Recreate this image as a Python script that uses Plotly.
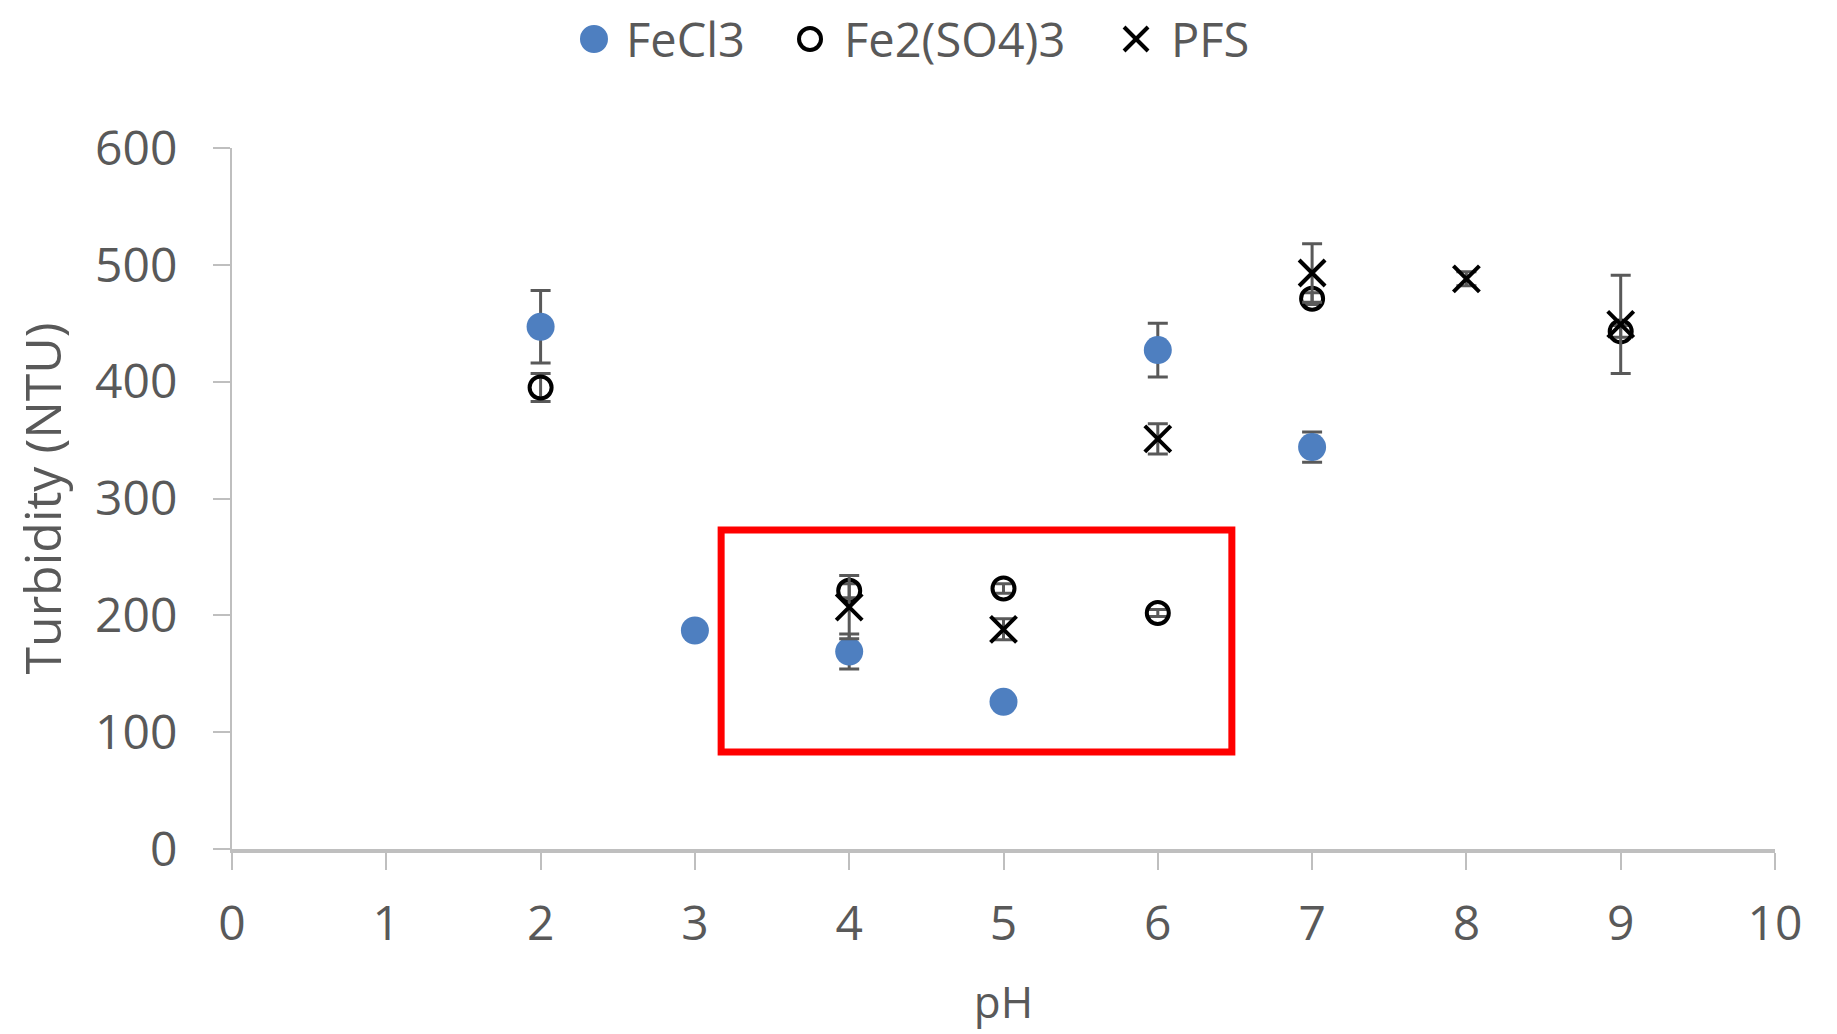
import plotly.graph_objects as go

# ---- data ----
ph_fecl3 = [2, 3, 4, 5, 6, 7]
turb_fecl3 = [447, 187, 169, 126, 427, 344]
err_fecl3 = [31, 4, 15, 5, 23, 13]

ph_fe2so4 = [2, 4, 5, 6, 7, 9]
turb_fe2so4 = [395, 221, 223, 202, 471, 443]
err_fe2so4 = [12, 6, 4, 3, 5, 5]

ph_pfs = [4, 5, 6, 7, 8, 9]
turb_pfs = [207, 188, 351, 493, 488, 449]
err_pfs = [27, 9, 13, 25, 6, 42]

series_names = ["FeCl3", "Fe2(SO4)3", "PFS"]
x_ticks = [0, 1, 2, 3, 4, 5, 6, 7, 8, 9, 10]
y_ticks = [0, 100, 200, 300, 400, 500, 600]

# highlight box (data coords)
box_x = [3.17, 6.48]
box_y = [83, 273]

# custom legend layout (paper coords): symbol centre x, text left x, row y
leg_sym_x = [0.2346, 0.3746, 0.5859]
leg_txt_x = [0.2541, 0.3953, 0.6073]
leg_y = 1.1555

FONT = "Open Sans"
TXT = "#595959"
ERRC = "#595959"
BLUE = "#4e7fc0"

fig = go.Figure()

fig.add_trace(go.Scatter(
    x=ph_fecl3, y=turb_fecl3, mode="markers", name=series_names[0],
    marker=dict(symbol="circle", size=28, color=BLUE, line=dict(width=0)),
    error_y=dict(type="data", array=err_fecl3, visible=True, color=ERRC, thickness=3, width=10),
))
fig.add_trace(go.Scatter(
    x=ph_fe2so4, y=turb_fe2so4, mode="markers", name=series_names[1],
    marker=dict(symbol="circle-open", size=22, color="black", line=dict(width=4, color="black")),
    error_y=dict(type="data", array=err_fe2so4, visible=True, color=ERRC, thickness=3, width=10),
))
fig.add_trace(go.Scatter(
    x=ph_pfs, y=turb_pfs, mode="markers", name=series_names[2],
    marker=dict(symbol="x-thin-open", size=26, color="black", line=dict(width=4, color="black")),
    error_y=dict(type="data", array=err_pfs, visible=True, color=ERRC, thickness=3, width=10),
))

fig.add_shape(type="rect", xref="x", yref="y",
              x0=box_x[0], x1=box_x[1], y0=box_y[0], y1=box_y[1],
              line=dict(color="#ff0000", width=7), fillcolor="rgba(0,0,0,0)")

# ---- custom legend (large symbols like the reference) ----
common = dict(xref="paper", yref="paper", xsizemode="pixel", ysizemode="pixel")
fig.add_shape(type="circle", xanchor=leg_sym_x[0], yanchor=leg_y,
              x0=-14, x1=14, y0=-14, y1=14, fillcolor=BLUE, line=dict(width=0), **common)
fig.add_shape(type="circle", xanchor=leg_sym_x[1], yanchor=leg_y,
              x0=-11, x1=11, y0=-11, y1=11, fillcolor="rgba(0,0,0,0)",
              line=dict(width=4, color="black"), **common)
fig.add_shape(type="line", xanchor=leg_sym_x[2], yanchor=leg_y,
              x0=-12, x1=12, y0=-12, y1=12, line=dict(width=4, color="black"), **common)
fig.add_shape(type="line", xanchor=leg_sym_x[2], yanchor=leg_y,
              x0=-12, x1=12, y0=12, y1=-12, line=dict(width=4, color="black"), **common)
for name, tx in zip(series_names, leg_txt_x):
    fig.add_annotation(text=name, xref="paper", yref="paper", x=tx, y=leg_y,
                       xanchor="left", yanchor="middle", showarrow=False,
                       font=dict(family=FONT, size=47, color=TXT))

# page body has an 8px margin, so the figure is sized/margined to compensate
fig.update_layout(
    width=1829, height=1026,
    paper_bgcolor="white", plot_bgcolor="white",
    margin=dict(l=224, r=62, t=140, b=185),
    font=dict(family=FONT, size=48, color=TXT),
    showlegend=False,
)

fig.update_xaxes(
    range=[0, 10], tickmode="array", tickvals=x_ticks,
    showgrid=False, zeroline=False, automargin=False,
    showline=True, linecolor="#bfbfbf", linewidth=4,
    ticks="outside", ticklen=17, tickwidth=2, tickcolor="#bfbfbf",
    ticklabelstandoff=12,
    tickfont=dict(family=FONT, size=48, color=TXT),
    title=dict(text="pH", font=dict(family=FONT, size=44, color=TXT), standoff=36),
)
fig.update_yaxes(
    range=[0, 600], tickmode="array", tickvals=y_ticks,
    showgrid=False, zeroline=False, automargin=False,
    showline=True, linecolor="#bfbfbf", linewidth=2,
    ticks="outside", ticklen=17, tickwidth=2, tickcolor="#bfbfbf",
    ticklabelstandoff=26,
    tickfont=dict(family=FONT, size=48, color=TXT),
    title=dict(text="Turbidity (NTU)", font=dict(family=FONT, size=50, color=TXT), standoff=20),
)

fig.write_html("out.html")
